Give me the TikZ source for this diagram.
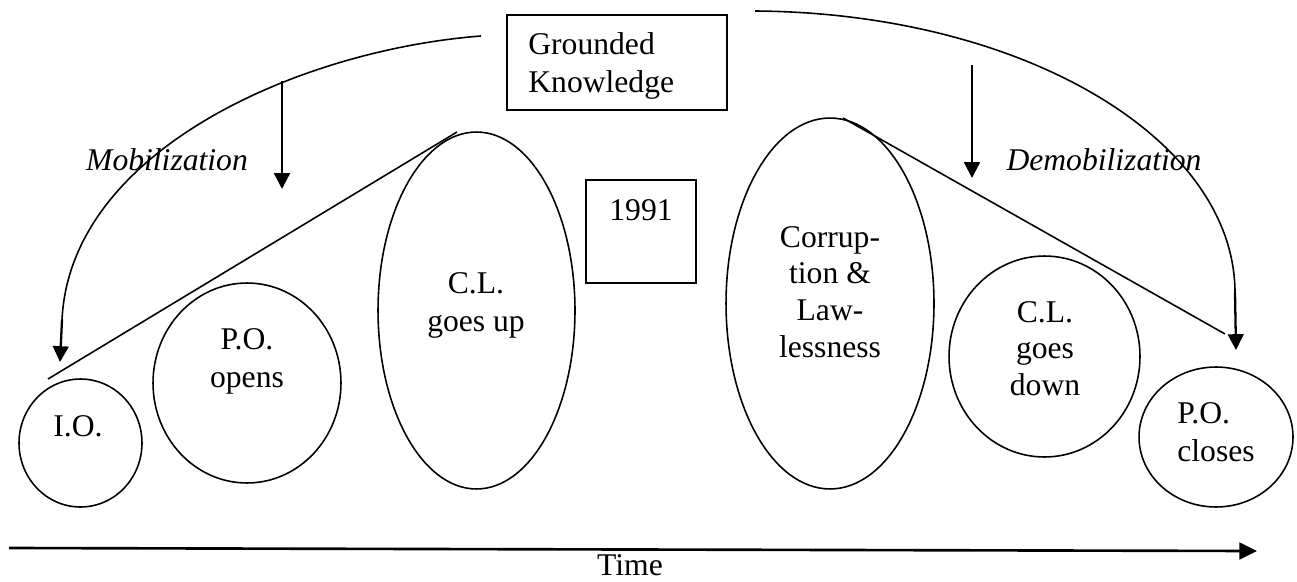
\documentclass[tikz,border=0pt]{standalone}
\usepackage{fontspec}
\setmainfont{Liberation Serif}
\usetikzlibrary{shapes.geometric,arrows.meta}
\begin{document}
\begin{tikzpicture}[x=0.02cm,y=-0.02cm,
  lbl/.style={font=\fontsize{18}{21}\selectfont, inner sep=0pt, anchor=base},
  lblw/.style={lbl, anchor=base west},
  ilbl/.style={lbl, font=\fontsize{18}{21}\selectfont\itshape},
  oval/.style={draw, ellipse, line width=0.9pt, inner sep=0pt},
  box/.style={draw, rectangle, line width=0.9pt, inner sep=0pt},
  thinline/.style={line width=0.9pt},
  arr/.style={line width=1.3pt, -{Triangle[length=9pt,width=9pt]}},
  timearr/.style={line width=1.5pt, -{Triangle[length=10pt,width=9.5pt]}}]
\useasboundingbox (0,0) rectangle (1297,581);

% boxes
\node[box, minimum width=4.4cm, minimum height=1.9cm] (gk) at (617,62.5) {};
\node[lblw] (gk1) at (528,55) {Grounded};
\node[lblw] (gk2) at (528,92) {Knowledge};
\node[box, minimum width=2.2cm, minimum height=2.06cm] (yr) at (641,231.5) {};
\node[lbl] (yrt) at (641,220) {1991};

% ovals
\node[oval, minimum width=2.46cm, minimum height=2.56cm] (io) at (80.5,443) {};
\node[lbl] (iot) at (78,436) {I.O.};
\node[oval, minimum width=3.76cm, minimum height=4.0cm] (po) at (247,383) {};
\node[lbl] (pot1) at (247,349) {P.O.};
\node[lbl] (pot2) at (247,387) {opens};
\node[oval, minimum width=3.94cm, minimum height=7.14cm] (clu) at (476.5,310.5) {};
\node[lbl] (clut1) at (476,293) {C.L.};
\node[lbl] (clut2) at (476,331) {goes up};
\node[oval, minimum width=4.16cm, minimum height=7.42cm] (cor) at (830,303.5) {};
\node[lbl] (cort1) at (830,247) {Corrup-};
\node[lbl] (cort2) at (830,283) {tion \&};
\node[lbl] (cort3) at (830,320) {Law-};
\node[lbl] (cort4) at (830,357) {lessness};
\node[oval, minimum width=3.82cm, minimum height=4.02cm] (cld) at (1044.5,356.5) {};
\node[lbl] (cldt1) at (1045,322) {C.L.};
\node[lbl] (cldt2) at (1045,358) {goes};
\node[lbl] (cldt3) at (1045,395) {down};
\node[oval, minimum width=3.08cm, minimum height=2.8cm] (pc) at (1216,437) {};
\node[lblw] (pct1) at (1177,423) {P.O.};
\node[lblw] (pct2) at (1177,461) {closes};

% labels
\node[ilbl] (mob) at (167,170) {Mobilization};
\node[ilbl] (demob) at (1104,170) {Demobilization};
\node[lbl] (time) at (630,575) {Time};

% coordinates for connector ends
\coordinate (lcs) at (481,36);
\coordinate (lce) at (62,320);
\coordinate (lct) at (60,362);
\coordinate (rcs) at (755,11);
\coordinate (rce) at (1235,293);
\coordinate (rct) at (1236,350);
\coordinate (ma1) at (282,81);
\coordinate (ma2) at (282,189);
\coordinate (da1) at (972,65);
\coordinate (da2) at (972,178);
\coordinate (ris1) at (48,379);
\coordinate (ris2) at (457,132);
\coordinate (fal1) at (843,118);
\coordinate (fal2) at (1225,334);
\coordinate (t1) at (9,548);
\coordinate (t2) at (1257,551);

% curves
\draw[thinline] (lcs) .. controls (300,50) and (70,150) .. (lce);
\draw[arr] (lce) -- (lct);
\draw[thinline] (rcs) .. controls (1025,13) and (1235,140) .. (rce);
\draw[arr] (rce) -- (rct);

% straight arrows
\draw[arr] (ma1) -- (ma2);
\draw[arr] (da1) -- (da2);

% trend lines
\draw[thinline] (ris1) -- (ris2);
\draw[thinline] (fal1) -- (fal2);

% time axis
\draw[timearr] (t1) -- (t2);
\end{tikzpicture}
\end{document}
